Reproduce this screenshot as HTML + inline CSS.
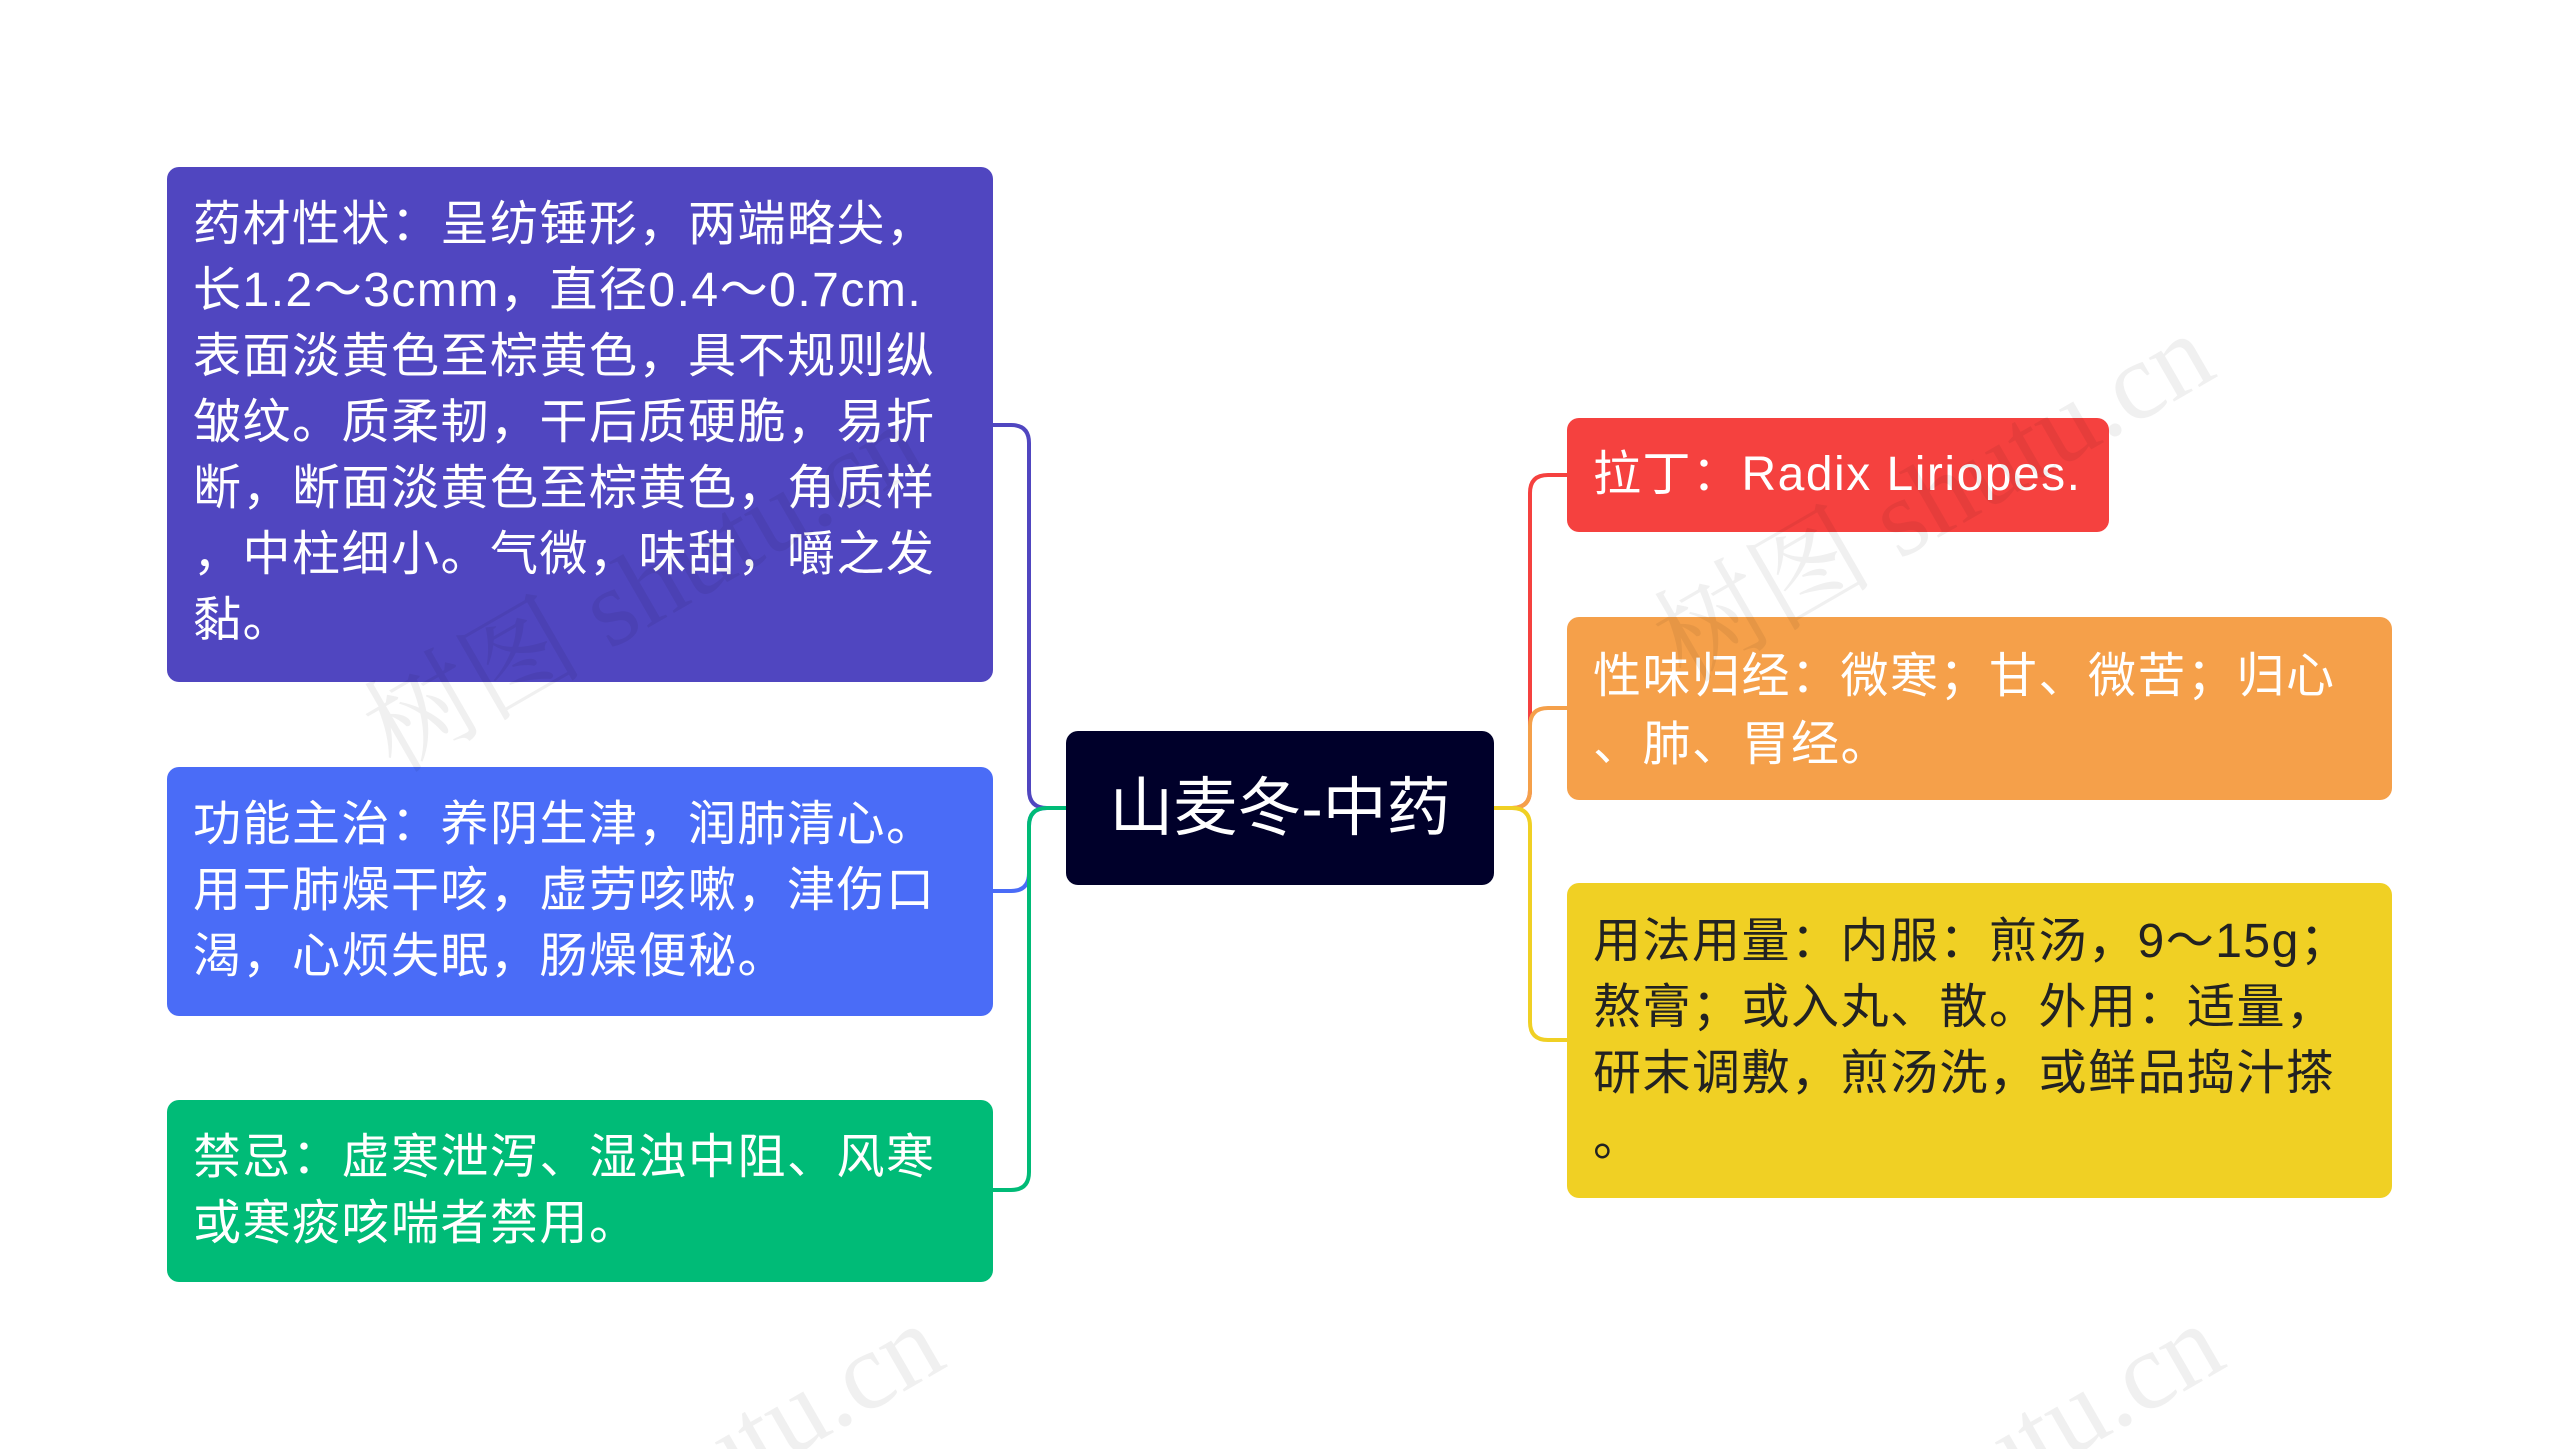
<!DOCTYPE html>
<html><head><meta charset="utf-8"><style>
html,body{margin:0;padding:0;background:#fff;width:2560px;height:1449px;overflow:hidden;}
#w{width:2560px;height:1449px;position:relative;overflow:hidden;font-family:"Liberation Sans","Noto Sans CJK SC",sans-serif;}
.b{position:absolute;box-sizing:border-box;border-radius:12px;color:#fff;font-size:48px;line-height:66px;padding:25px 26px;white-space:nowrap;letter-spacing:1.5px;}
.wm{position:absolute;color:rgba(0,0,0,0.06);font-size:110px;transform:rotate(-30deg);white-space:nowrap;font-family:"Liberation Serif","Noto Serif CJK SC",serif;}
</style></head><body><div id="w">
<svg width="2560" height="1449" style="position:absolute;left:0;top:0">
<g fill="none" stroke-width="4">
<path d="M993 425 H1011 Q1029 425 1029 443 V790 Q1029 808 1047 808 H1066" stroke="#5046c0"/>
<path d="M993 891 H1011 Q1029 891 1029 873 V826 Q1029 808 1047 808 H1066" stroke="#4a6cf7"/>
<path d="M993 1190 H1011 Q1029 1190 1029 1172 V826 Q1029 808 1047 808 H1066" stroke="#00bb77"/>
<path d="M1494 808 H1512 Q1530 808 1530 790 V493 Q1530 475 1548 475 H1567" stroke="#f5413f"/>
<path d="M1494 808 H1512 Q1530 808 1530 790 V726 Q1530 708 1548 708 H1567" stroke="#f5a04a"/>
<path d="M1494 808 H1512 Q1530 808 1530 826 V1022 Q1530 1040 1548 1040 H1567" stroke="#f0d024"/>
</g></svg>
<div class="b" style="left:167px;top:167px;width:826px;height:515px;background:#5046c0">药材性状：呈纺锤形，两端略尖，<br>长1.2～3cmm，直径0.4～0.7cm.<br>表面淡黄色至棕黄色，具不规则纵<br>皱纹。质柔韧，干后质硬脆，易折<br>断，断面淡黄色至棕黄色，角质样<br>，中柱细小。气微，味甜，嚼之发<br>黏。</div>
<div class="b" style="left:167px;top:767px;width:826px;height:249px;background:#4a6cf7">功能主治：养阴生津，润肺清心。<br>用于肺燥干咳，虚劳咳嗽，津伤口<br>渴，心烦失眠，肠燥便秘。</div>
<div class="b" style="left:167px;top:1100px;width:826px;height:182px;background:#00bb77">禁忌：虚寒泄泻、湿浊中阻、风寒<br>或寒痰咳喘者禁用。</div>
<div class="b" style="left:1066px;top:731px;width:428px;height:154px;background:#00002a;font-size:64px;line-height:154px;padding:0;text-align:center;letter-spacing:0">山麦冬-中药</div>
<div class="b" style="left:1567px;top:418px;width:542px;height:114px;background:#f5413f;line-height:114px;padding:0 26px">拉丁：Radix Liriopes.</div>
<div class="b" style="left:1567px;top:617px;width:825px;height:183px;background:#f5a04a;padding-top:26px;line-height:68px">性味归经：微寒；甘、微苦；归心<br>、肺、胃经。</div>
<div class="b" style="left:1567px;top:883px;width:825px;height:315px;background:#f0d024;color:#222;padding-top:26px">用法用量：内服：煎汤，9～15g；<br>熬膏；或入丸、散。外用：适量，<br>研末调敷，煎汤洗，或鲜品捣汁搽<br>。</div>
<div class="wm" style="left:330px;top:500px">树图 shutu.cn</div>
<div class="wm" style="left:1620px;top:410px">树图 shutu.cn</div>
<div class="wm" style="left:350px;top:1400px">树图 shutu.cn</div>
<div class="wm" style="left:1630px;top:1400px">树图 shutu.cn</div>
</div></body></html>
